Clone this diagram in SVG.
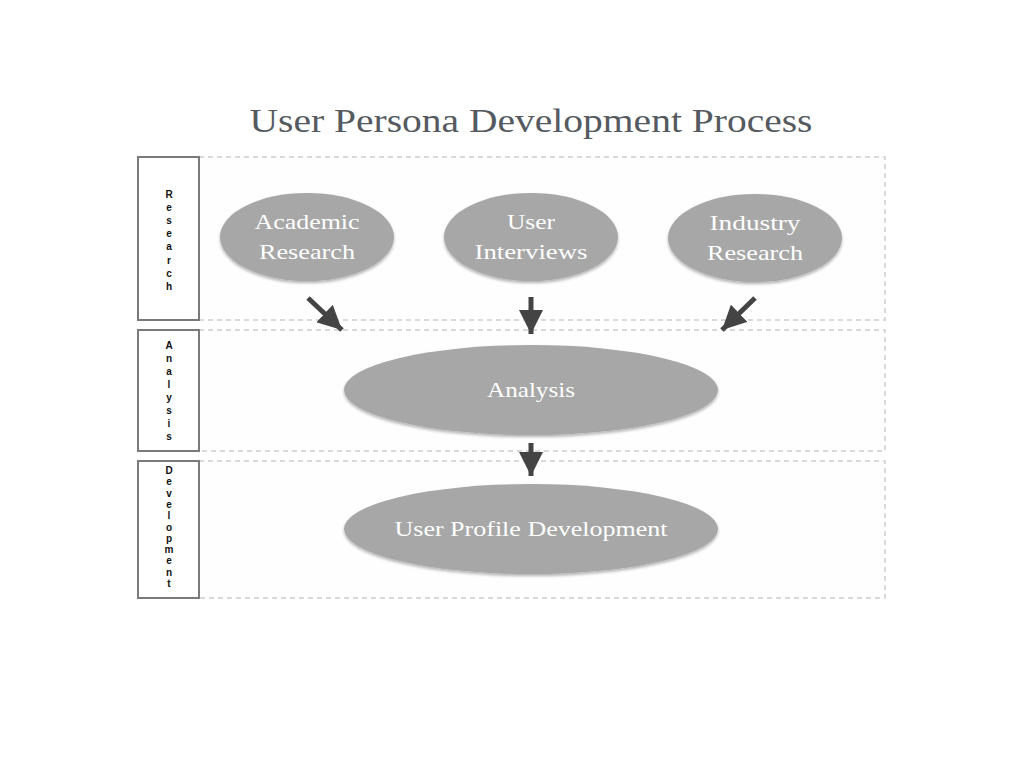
<svg xmlns="http://www.w3.org/2000/svg" width="1024" height="768" viewBox="0 0 1024 768">
<defs>
<style>
.lane{fill:#fefefe;stroke:#d9d9db;stroke-width:2;stroke-dasharray:5,4}
.lbl{fill:#fff;stroke:#7a7a7a;stroke-width:2}
.lt{font-family:"Liberation Sans",Arial,sans-serif;font-weight:bold;font-size:10px;fill:#111;text-anchor:middle}
.node{fill:#a6a7a6;filter:url(#sh)}
.nt{font-family:"Liberation Serif","DejaVu Serif",serif;font-size:22px;fill:#fff;text-anchor:middle}
.conn{stroke:#444;stroke-width:5;fill:none;marker-end:url(#ah)}
</style>
<filter id="sh" x="-10%" y="-10%" width="120%" height="130%">
<feDropShadow dx="0" dy="2" stdDeviation="1.5" flood-color="#000" flood-opacity="0.3"/>
</filter>
<marker id="ah" markerUnits="userSpaceOnUse" markerWidth="24" markerHeight="24" refX="18" refY="9" orient="auto" viewBox="0 0 18 18">
<path d="M0,0 L18,9 L0,18 Z" fill="#444"/>
</marker>
</defs>
<rect width="1024" height="768" fill="#fff"/>
<text x="531" y="132" font-family="'Liberation Serif','DejaVu Serif',serif" font-size="34" fill="#555a60" text-anchor="middle" textLength="563" lengthAdjust="spacingAndGlyphs">User Persona Development Process</text>
<g id="lane-research">
<rect class="lane" x="199" y="157" width="686" height="163"/>
<rect class="lbl" x="138" y="157" width="61" height="163"/>
<text class="lt" x="169"><tspan x="169" y="198">R</tspan><tspan x="169" dy="13.1">e</tspan><tspan x="169" dy="13.1">s</tspan><tspan x="169" dy="13.1">e</tspan><tspan x="169" dy="13.1">a</tspan><tspan x="169" dy="13.1">r</tspan><tspan x="169" dy="13.1">c</tspan><tspan x="169" dy="13.1">h</tspan></text>
</g>
<g id="lane-analysis">
<rect class="lane" x="199" y="330" width="686" height="121"/>
<rect class="lbl" x="138" y="330" width="61" height="121"/>
<text class="lt" x="169"><tspan x="169" y="349">A</tspan><tspan x="169" dy="13">n</tspan><tspan x="169" dy="13">a</tspan><tspan x="169" dy="13">l</tspan><tspan x="169" dy="13">y</tspan><tspan x="169" dy="13">s</tspan><tspan x="169" dy="13">i</tspan><tspan x="169" dy="13">s</tspan></text>
</g>
<g id="lane-development">
<rect class="lane" x="199" y="461" width="686" height="137"/>
<rect class="lbl" x="138" y="461" width="61" height="137"/>
<text class="lt" x="169"><tspan x="169" y="474">D</tspan><tspan x="169" dy="11.3">e</tspan><tspan x="169" dy="11.3">v</tspan><tspan x="169" dy="11.3">e</tspan><tspan x="169" dy="11.3">l</tspan><tspan x="169" dy="11.3">o</tspan><tspan x="169" dy="11.3">p</tspan><tspan x="169" dy="11.3">m</tspan><tspan x="169" dy="11.3">e</tspan><tspan x="169" dy="11.3">n</tspan><tspan x="169" dy="11.3">t</tspan></text>
</g>
<g id="connectors">
<line class="conn" x1="308" y1="298" x2="342" y2="330"/>
<line class="conn" x1="531" y1="297" x2="531" y2="334"/>
<line class="conn" x1="755" y1="298" x2="722" y2="330"/>
<line class="conn" x1="531" y1="443" x2="531" y2="476"/>
</g>
<g id="academic-research">
<ellipse class="node" cx="307" cy="237" rx="87" ry="44"/>
<text class="nt"><tspan x="307" y="229" textLength="105" lengthAdjust="spacingAndGlyphs">Academic</tspan><tspan x="307" y="259" textLength="96" lengthAdjust="spacingAndGlyphs">Research</tspan></text>
</g>
<g id="user-interviews">
<ellipse class="node" cx="531" cy="237" rx="87" ry="44"/>
<text class="nt"><tspan x="531" y="229" textLength="48" lengthAdjust="spacingAndGlyphs">User</tspan><tspan x="531" y="259" textLength="113" lengthAdjust="spacingAndGlyphs">Interviews</tspan></text>
</g>
<g id="industry-research">
<ellipse class="node" cx="755" cy="238" rx="87" ry="44"/>
<text class="nt"><tspan x="755" y="230" textLength="91" lengthAdjust="spacingAndGlyphs">Industry</tspan><tspan x="755" y="260" textLength="96" lengthAdjust="spacingAndGlyphs">Research</tspan></text>
</g>
<g id="analysis">
<ellipse class="node" cx="531" cy="390" rx="187" ry="45"/>
<text class="nt" x="531" y="397" textLength="88" lengthAdjust="spacingAndGlyphs">Analysis</text>
</g>
<g id="user-profile-development">
<ellipse class="node" cx="531" cy="529" rx="187" ry="45"/>
<text class="nt" x="531" y="536" textLength="273" lengthAdjust="spacingAndGlyphs">User Profile Development</text>
</g>
</svg>
